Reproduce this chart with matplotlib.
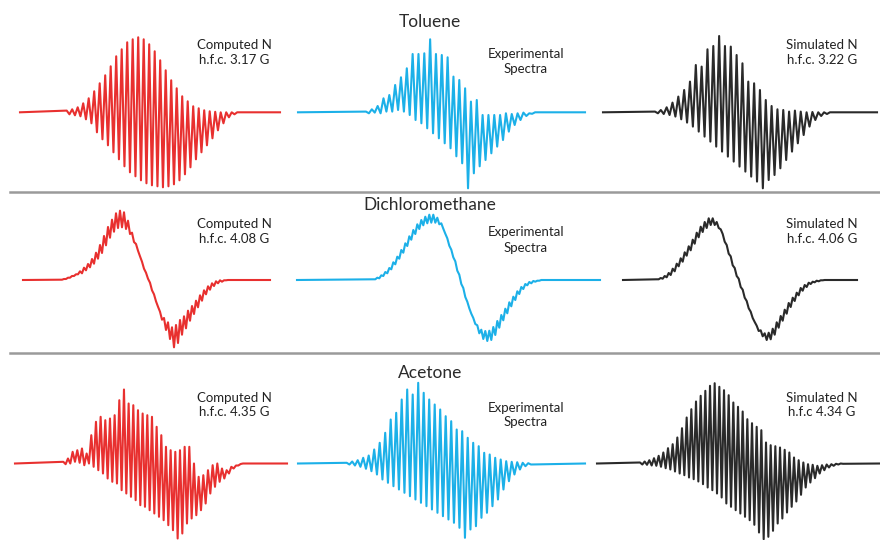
import numpy as np
import matplotlib
matplotlib.use("Agg")
import matplotlib.pyplot as plt
from matplotlib.lines import Line2D

plt.rcParams['font.family'] = ['Lato', 'DejaVu Sans']

RED = '#e8302f'
CYAN = '#1cb0e8'
BLACK = '#2a2a2a'

# --- spectra ----------------------------------------------------------------
# each trace: baseline from start to end, line positions x0 + dx*i,
# "top" = local maximum of each line, "bot" = following minimum (px above baseline)

# Toluene
tol_comp_base = (20, 280)
tol_comp_x0, tol_comp_dx = 66.7, 5.5
tol_comp_top = [1.7, 3, 5, 9, 14, 21, 29, 37, 46, 56, 63, 70, 73, 75, 73, 68, 61, 52, 42, 32,
                24, 16, 11, 6, 4, 2, 1, 0.5, 0, 0, 0, 0]
tol_comp_bot = [-2, -3, -4, -7, -11, -20, -27, -33, -40, -47, -54, -60, -64, -68, -71, -73, -74,
                -75, -74, -72, -68, -62, -55, -47, -40, -33, -26, -18, -11, -5, -2, 0]

tol_exp_base = (298, 585)
tol_exp_x0, tol_exp_dx = 366, 5.83
tol_exp_top = [0.7, 3, 6.3, 14, 17.3, 27.3, 35, 44, 58.3, 58.3, 59, 73, 58.3, 57.3, 55, 35.7,
               32.3, 24, 10.7, 12.3, -2.7, -2.7, -2.7, -2.7, -1, -1.7, -1, -0.3, -1, 0]
tol_exp_bot = [-1, -0.3, -1, 0.7, 0.7, 2.3, 0.7, -2.7, -7.7, -11, -16, -21, -26, -31, -36, -44,
               -51, -76, -61, -54, -47.7, -41, -34.3, -27.7, -19.3, -12.7, -7.7, -3.7, -1.5, 0]

tol_sim_base = (603, 877)
tol_sim_x0, tol_sim_dx = 655, 5.83
tol_sim_top = [0.7, 2.3, 5, 9.7, 15.7, 22.3, 30.7, 47.3, 45.7, 63, 66.3, 76.3, 66.3, 65.7, 57.3,
               49, 30.7, 29, 22.3, 12.3, 6.3, 3, 2.3, 0.7, 1.7, 0.7, 0, 0.3, 0, 0, 0]
tol_sim_bot = [-1, -1.7, -2.7, -4.3, -7, -10.3, -14.3, -19.3, -24.3, -29.3, -34.3, -39.3, -44.3,
               -49.3, -54.3, -59.3, -64.3, -69.3, -76, -67.7, -62.7, -56, -47.7, -39.3, -31,
               -22.7, -14.3, -7.7, -3.7, -1.7, 0]

# Dichloromethane
dcm_comp_base = (23, 270)
dcm_comp_x0, dcm_comp_dx = 60, 4
dcm_comp_top = [0.3, 1, 2.3, 4, 5.7, 8.7, 12.3, 16, 21, 27.3, 35, 44, 53, 60.3, 66.7, 69.3, 67.7,
                59.3, 47.3, 36, 23.7, 11.3, 1.3, -10.3, -21.3, -31.7, -38, -42.3, -47.3, -45,
                -40, -36.3, -30.7, -26, -20.7, -15.3, -10.3, -6.3, -3.3, -1.3, -0.3, -0.3, 0]
dcm_comp_bot = [0.3, 1, 2.3, 4, 5.7, 6.7, 9.7, 12.7, 16.3, 21.3, 27, 34.7, 42.3, 48.3, 52, 52.7,
                51, 46, 38, 29.3, 18.3, 7.3, -2.7, -14.3, -26.7, -39.7, -50, -59, -67.3, -63,
                -54.7, -48.3, -40.7, -34, -27.3, -20.7, -14.3, -9.7, -6, -3.3, -1.7, -0.3, 0]

dcm_exp_base = (297, 600)
dcm_exp_x0, dcm_exp_dx = 373.3, 4
dcm_exp_top = [0.7, 2.3, 4.7, 8, 12, 17.7, 23.3, 30, 36.7, 43.7, 50, 55.7, 60, 63.3, 65.3, 65.3,
               62.3, 56.7, 46.3, 34.3, 22.7, 9.3, -4, -17, -28.3, -38, -45.3, -49.7, -51, -50.7,
               -47, -41, -35, -28.7, -22.3, -16.7, -11.3, -7, -4, -2, -1, -0.7, 0]
dcm_exp_bot = [0.7, 1.7, 4, 6.7, 10.7, 15.7, 21.3, 27.3, 34, 40.3, 46, 51, 54.7, 56.7, 57.3, 57.3,
               55.7, 51.3, 41.7, 30.3, 18.7, 5.3, -8, -21.7, -33.7, -44, -53.3, -59, -61, -60,
               -55, -47.7, -40.3, -33.3, -26.3, -20, -14, -9, -5.3, -3.3, -1.7, -0.7, 0]

dcm_sim_base = (623, 857)
dcm_sim_x0, dcm_sim_dx = 656.7, 4
dcm_sim_top = [0.7, 2, 4, 7, 11.3, 16.3, 21.7, 27.7, 33.7, 40.3, 47.3, 53.3, 58, 61.7, 61.7, 58,
               50.7, 38.3, 26.3, 14.7, 4, -7, -17.7, -28.3, -38, -45.7, -50.3, -53.3, -52.7,
               -48.7, -42.3, -36, -29.7, -23, -17.7, -12.7, -8, -5, -2.7, -1.7, -0.7, -0.3, 0]
dcm_sim_bot = [0.7, 1.3, 2.7, 5, 8.7, 13.7, 18.3, 24.3, 29.7, 36.3, 42.7, 48, 52, 55, 55, 52, 46,
               35, 23.7, 12, 1.3, -9.7, -21, -31.7, -42, -51, -56.3, -60, -59.3, -54.7, -47.7,
               -40.7, -33.7, -27, -21, -15.3, -10.7, -7, -4, -2.3, -1.3, -0.3, 0]

# Acetone
ace_comp_base = (15, 287)
ace_comp_x0, ace_comp_dx = 63.3, 4.667
ace_comp_top = [1.7, 5, 11.7, 13.3, 15, 10, 28.3, 41.7, 46.7, 43.3, 45, 48.3, 63.3, 74, 60, 58.3,
                53.3, 50, 48.3, 46.7, 36.7, 28.3, 16.7, 13.3, 11.7, 13.3, 16.7, 16.7, 0, -13.3,
                -11.7, -6.7, -1.7, 0, -5, -6.7, -3.3, -2, -0.5]
ace_comp_bot = [-0.7, 0, 1.7, 0.7, -1.7, 0, -3.3, -6.7, -10, -15, -18.3, -20, -26.7, -30, -33.3,
                -36.7, -41.7, -43.3, -46.7, -50, -53.3, -56.7, -61.7, -66.7, -75, -70, -60, -55,
                -51.7, -46.7, -40, -30, -23.3, -18.3, -15, -10, -5, -2, 0]

ace_exp_base = (298, 585)
ace_exp_x0, ace_exp_dx = 346.7, 5.5
ace_exp_top = [0.7, 2, 3.3, 5.7, 8, 14, 20.7, 30.7, 44, 50.7, 64, 74, 69, 80.7, 70.7, 64, 59, 54,
               47.3, 42.3, 34, 32.3, 25.7, 20.7, 17.3, 10.7, 9, 5.7, 4, 2.3, 1.7, 1.3, 0.7, 0.3]
ace_exp_bot = [-1, -2, -3.3, -5.3, -7.7, -11, -16, -19.3, -22.7, -26, -29.3, -32.7, -36, -39.3,
               -42.7, -46, -49.3, -52.7, -56, -59.3, -64.3, -74.3, -66, -62.7, -54.3, -49.3,
               -42.7, -36, -26, -17.7, -11, -6, -2.7, -1]

ace_sim_base = (597, 880)
ace_sim_x0, ace_sim_dx = 640, 4.667
ace_sim_top = [1, 2, 3.3, 5.3, 7.7, 11, 15.3, 19.3, 26, 35.3, 46, 54.3, 62, 67.7, 72.7, 77.7, 80.3,
               76.7, 73.3, 68.3, 61, 56.7, 52, 44.3, 40.3, 36.7, 33.3, 21, 18.3, 17.3, 16, 13.7,
               11, 6, 3.3, 1, -0.7, -1.3, -2.3, -1.7, -1, -0.7, -0.3, 0]
ace_sim_bot = [-1, -1.3, -2, -2.3, -3.3, -4.7, -6, -8, -10, -11.7, -14, -15.7, -18, -20.7, -24,
               -26.7, -30, -34, -40, -43.3, -46.7, -50, -53.3, -56.7, -61.3, -69, -75.7, -73.3,
               -67.3, -60, -55, -49, -43.3, -38, -31.3, -24, -19, -14.7, -10, -6.7, -4, -2.3,
               -1, -0.3]

titles = ['Toluene', 'Dichloromethane', 'Acetone']
hfc_comp = ['3.17', '4.08', '4.35']
hfc_sim = ['3.22', '4.06', '4.34']


def trace(base, x0, dx, top, bot):
    n = len(top)
    xt = x0 + dx * np.arange(n)
    xs = np.empty(2 * n)
    ys = np.empty(2 * n)
    xs[0::2], xs[1::2] = xt, xt + dx / 2
    ys[0::2], ys[1::2] = top, bot
    xs = np.concatenate([[base[0]], xs, [base[1]]])
    ys = np.concatenate([[0], ys, [0]])
    return xs, ys


rows = [
    [(tol_comp_base, tol_comp_x0, tol_comp_dx, tol_comp_top, tol_comp_bot),
     (tol_exp_base, tol_exp_x0, tol_exp_dx, tol_exp_top, tol_exp_bot),
     (tol_sim_base, tol_sim_x0, tol_sim_dx, tol_sim_top, tol_sim_bot)],
    [(dcm_comp_base, dcm_comp_x0, dcm_comp_dx, dcm_comp_top, dcm_comp_bot),
     (dcm_exp_base, dcm_exp_x0, dcm_exp_dx, dcm_exp_top, dcm_exp_bot),
     (dcm_sim_base, dcm_sim_x0, dcm_sim_dx, dcm_sim_top, dcm_sim_bot)],
    [(ace_comp_base, ace_comp_x0, ace_comp_dx, ace_comp_top, ace_comp_bot),
     (ace_exp_base, ace_exp_x0, ace_exp_dx, ace_exp_top, ace_exp_bot),
     (ace_sim_base, ace_sim_x0, ace_sim_dx, ace_sim_top, ace_sim_bot)],
]
colors = [RED, CYAN, BLACK]

# row layout in pixels: (top, bottom, baseline)
row_px = [(0, 192, 112.3), (192, 354, 280), (354, 540, 463.5)]
title_y = [21.7, 205, 372.7]
label_y = [52.5, 231.7, 405]
exp_y = [61.7, 240, 415]

W, H = 880, 540
fig = plt.figure(figsize=(8.8, 5.4), dpi=100)

for r, (top_px, bot_px, base_px) in enumerate(row_px):
    ax = fig.add_axes([0, 1 - bot_px / H, 1, (bot_px - top_px) / H])
    ax.set_xlim(0, W)
    ax.set_ylim(-(bot_px - base_px), base_px - top_px)
    ax.axis('off')
    for spec, c in zip(rows[r], colors):
        xs, ys = trace(*spec)
        ax.plot(xs, ys, color=c, lw=1.5)

    def yv(p):
        return base_px - p

    ax.text(430, yv(title_y[r]), titles[r], ha='center', va='center',
            fontsize=12.5, color='#2b2b2b')
    ax.text(234, yv(label_y[r]), 'Computed N\nh.f.c. %s G' % hfc_comp[r], ha='center',
            va='center', fontsize=9.5, color='#222222', linespacing=1.3)
    ax.text(526, yv(exp_y[r]), 'Experimental\nSpectra', ha='center', va='center',
            fontsize=9.5, color='#222222', linespacing=1.3)
    sim_txt = 'h.f.c %s G' % hfc_sim[r] if r == 2 else 'h.f.c. %s G' % hfc_sim[r]
    ax.text(822, yv(label_y[r]), 'Simulated N\n' + sim_txt, ha='center', va='center',
            fontsize=9.5, color='#222222', linespacing=1.3)

# grey separators between rows
for yp in (191.7, 353.3):
    fig.add_artist(Line2D([10 / W, 1], [1 - yp / H, 1 - yp / H], color='#9a9a9a', lw=1.8))

fig.savefig('out.png', dpi=100, facecolor='white')
